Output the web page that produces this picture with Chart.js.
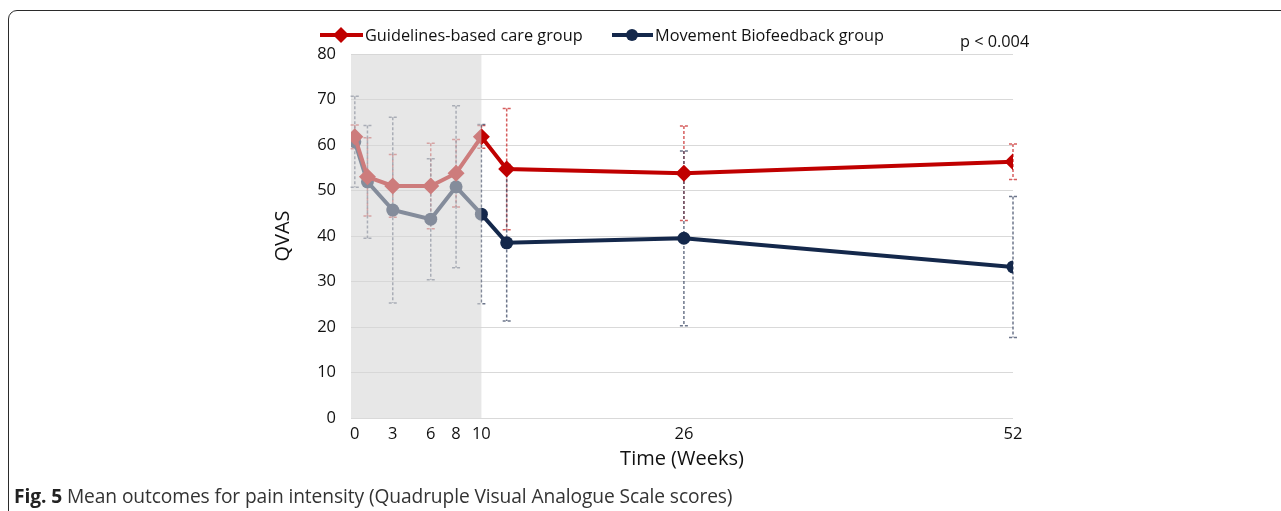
<!DOCTYPE html>
<html>
<head>
<meta charset="utf-8">
<script src="https://cdn.jsdelivr.net/npm/chart.js@4.4.1/dist/chart.umd.min.js"></script>
<style>
  html, body { margin: 0; padding: 0; background: #fff; overflow: hidden; }
  body { width: 1281px; height: 511px; position: relative; font-family: "Open Sans", sans-serif; }
  .frame { position: absolute; left: 8px; top: 10px; width: 1320px; height: 600px;
           border: 1.5px solid #2b2b2b; border-radius: 9px; box-sizing: border-box; }
  #wrap { position: absolute; left: 0; top: 0; width: 1281px; height: 511px; }
  .legend { position: absolute; top: 24px; height: 22px; display: flex; align-items: center;
            font-size: 16.3px; color: #111; white-space: nowrap; }
  .legend svg { margin-right: 2px; }
  .pval { position: absolute; left: 960px; top: 30px; font-size: 16.3px; color: #111; }
  .caption { position: absolute; left: 14px; top: 482px; font-size: 19.2px; color: #333;
             white-space: nowrap; letter-spacing: -0.1px; }
  .caption b { color: #222; }
</style>
</head>
<body>
<div class="frame"></div>
<div id="wrap"><canvas id="grafico" width="1281" height="511"></canvas></div>
<div class="legend" style="left:320px">
  <svg width="43" height="18"><line x1="0" y1="9" x2="43" y2="9" stroke="#c00000" stroke-width="4"/><polygon points="21,1 29,9 21,17 13,9" fill="#c00000"/></svg>
  <span>Guidelines-based care group</span>
</div>
<div class="legend" style="left:612px">
  <svg width="41" height="18"><line x1="0" y1="9" x2="41" y2="9" stroke="#14284b" stroke-width="4"/><circle cx="20" cy="9" r="6" fill="#14284b"/></svg>
  <span>Movement Biofeedback group</span>
</div>
<div class="pval">p &lt; 0.004</div>
<div class="caption"><b>Fig. 5</b> Mean outcomes for pain intensity (Quadruple Visual Analogue Scale scores)</div>

<script>
// semanas de medicion
const semanas = [0, 1, 3, 6, 8, 10, 12, 26, 52];
const semanasTicks = [0, 3, 6, 8, 10, 26, 52];

// medias QVAS
const guiasMedia = [61.8, 53.0, 51.0, 51.0, 53.8, 61.8, 54.7, 53.8, 56.3];
const biofeedMedia = [60.7, 51.9, 45.7, 43.7, 50.8, 44.8, 38.5, 39.5, 33.2];

// desviacion estandar (barras de error)
const guiasDE = [2.6, 8.6, 6.9, 9.4, 7.4, 2.5, 13.3, 10.4, 3.9];
const biofeedDE = [10.0, 12.4, 20.4, 13.3, 17.8, 19.7, 17.2, 19.2, 15.5];

// fin del periodo de intervencion (zona gris)
const finIntervencion = 10;

const rojo = "#c00000";
const azul = "#14284b";

function puntos(medias) {
    return semanas.map((s, i) => ({ x: s, y: medias[i] }));
}

// barras de error punteadas, antes de las lineas
const barrasError = {
    id: "barrasError",
    beforeDatasetsDraw(chart) {
        const ctx = chart.ctx;
        const x = chart.scales.x, y = chart.scales.y;
        const series = [
            { medias: guiasMedia, de: guiasDE, color: "rgba(200,40,40,0.75)" },
            { medias: biofeedMedia, de: biofeedDE, color: "rgba(60,72,100,0.75)" }
        ];
        ctx.save();
        ctx.lineWidth = 1.5;
        ctx.setLineDash([3, 2]);
        series.forEach((s) => {
            ctx.strokeStyle = s.color;
            semanas.forEach((sem, i) => {
                const px = x.getPixelForValue(sem);
                const top = y.getPixelForValue(s.medias[i] + s.de[i]);
                const bot = y.getPixelForValue(s.medias[i] - s.de[i]);
                ctx.beginPath();
                ctx.moveTo(px, top); ctx.lineTo(px, bot);
                ctx.moveTo(px - 4, top); ctx.lineTo(px + 4, top);
                ctx.moveTo(px - 4, bot); ctx.lineTo(px + 4, bot);
                ctx.stroke();
            });
        });
        ctx.restore();
    }
};

// zona gris semitransparente sobre el periodo de intervencion
const zonaGris = {
    id: "zonaGris",
    afterDatasetsDraw(chart) {
        const ctx = chart.ctx;
        const area = chart.chartArea;
        const x2 = chart.scales.x.getPixelForValue(finIntervencion);
        ctx.save();
        ctx.fillStyle = "rgba(214,214,214,0.58)";
        ctx.fillRect(area.left, area.top, x2 - area.left, area.bottom - area.top);
        ctx.restore();
    }
};

const ctx = document.getElementById("grafico").getContext("2d");

new Chart(ctx, {
    type: "line",
    data: {
        datasets: [
            {
                label: "Guidelines-based care group",
                data: puntos(guiasMedia),
                borderColor: rojo,
                backgroundColor: rojo,
                borderWidth: 4,
                pointStyle: "rectRot",
                pointRadius: 8.5,
                pointHoverRadius: 8.5,
                pointBorderWidth: 0
            },
            {
                label: "Movement Biofeedback group",
                data: puntos(biofeedMedia),
                borderColor: azul,
                backgroundColor: azul,
                borderWidth: 4,
                pointStyle: "circle",
                pointRadius: 6.5,
                pointHoverRadius: 6.5,
                pointBorderWidth: 0
            }
        ]
    },
    options: {
        responsive: false,
        animation: false,
        layout: { padding: { left: 270, right: 268, top: 54, bottom: 33 } },
        plugins: {
            legend: { display: false },
            tooltip: { enabled: false }
        },
        scales: {
            x: {
                type: "linear",
                min: -0.3,
                max: 52,
                afterBuildTicks: (axis) => {
                    axis.ticks = semanasTicks.map((v) => ({ value: v }));
                },
                afterFit: (axis) => { axis.height = 60; },
                grid: { display: false },
                border: { display: false },
                ticks: {
                    padding: -2,
                    maxRotation: 0,
                    autoSkip: false,
                    color: "#111",
                    font: { family: "Open Sans", size: 16.5 }
                },
                title: {
                    display: true,
                    text: "Time (Weeks)",
                    color: "#111",
                    padding: { top: 0, bottom: 7 },
                    font: { family: "Open Sans", size: 20 }
                }
            },
            y: {
                min: 0,
                max: 80,
                afterFit: (axis) => { axis.width = 81; },
                grid: { color: "#d9d9d9", lineWidth: 1, drawTicks: false },
                border: { display: false },
                ticks: {
                    stepSize: 10,
                    padding: 15,
                    color: "#111",
                    font: { family: "Open Sans", size: 16.5 }
                },
                title: {
                    display: true,
                    text: "QVAS",
                    color: "#111",
                    padding: { top: 1, bottom: 0 },
                    font: { family: "Open Sans", size: 20 }
                }
            }
        }
    },
    plugins: [barrasError, zonaGris]
});
</script>
</body>
</html>
